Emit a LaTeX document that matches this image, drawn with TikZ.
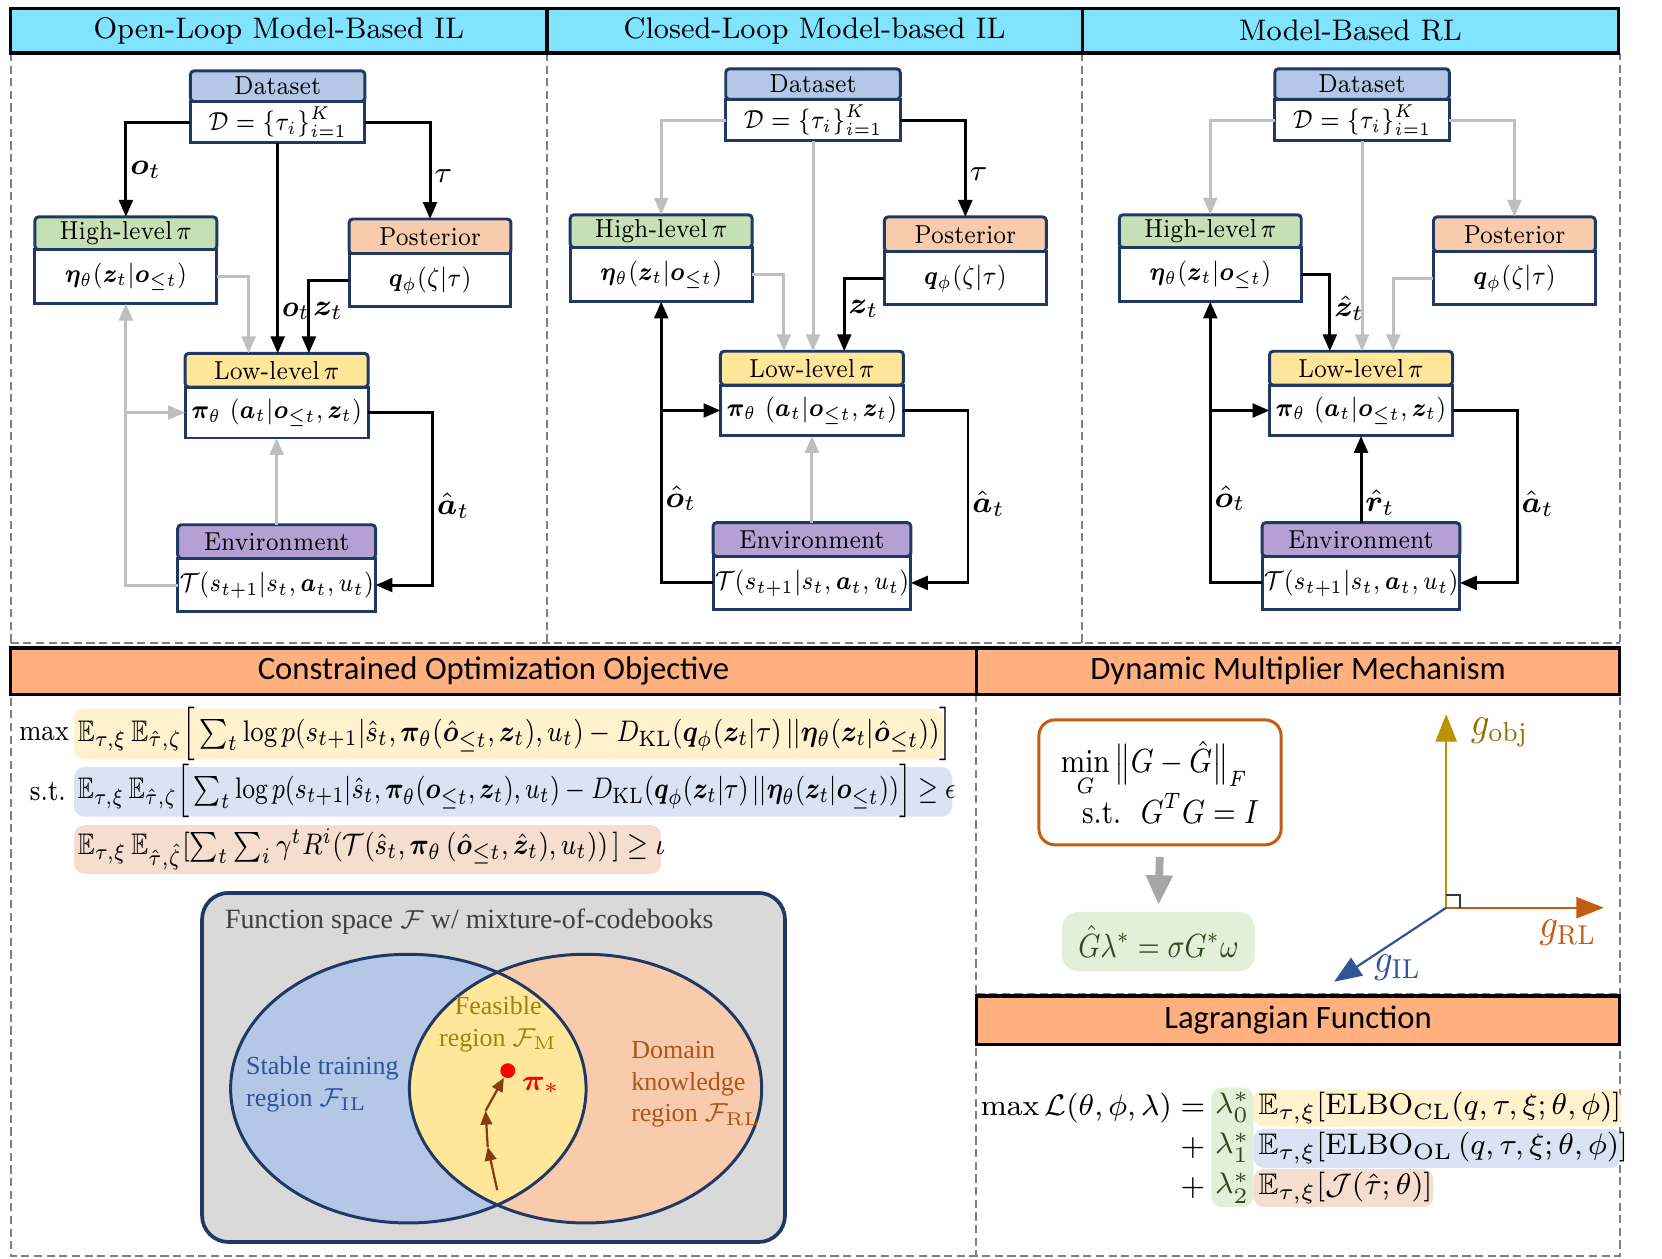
\documentclass[tikz,border=0pt]{standalone}
\usepackage{amsmath,amssymb,bm}
\usepackage{graphicx}
\usepackage{fontspec}
\newfontfamily\hdfont{Carlito}
\newfontfamily\tmfont{Liberation Serif}
\usetikzlibrary{arrows.meta,positioning,calc}

\definecolor{navy}{HTML}{1F3864}
\definecolor{cTitle}{HTML}{80E4FF}
\definecolor{cSec}{HTML}{FFB07E}
\definecolor{cData}{HTML}{B4C7E7}
\definecolor{cHigh}{HTML}{C5E0B4}
\definecolor{cPost}{HTML}{F8CBAD}
\definecolor{cLow}{HTML}{FFE699}
\definecolor{cEnv}{HTML}{B4A0D3}
\definecolor{lnGray}{HTML}{BFBFBF}
\definecolor{dshGray}{HTML}{808080}
\definecolor{hlYel}{HTML}{FFF2CC}
\definecolor{hlBlu}{HTML}{DAE3F3}
\definecolor{hlPch}{HTML}{F5DDCF}
\definecolor{hlGrn}{HTML}{E2F0D9}
\definecolor{cOrg}{HTML}{C55A11}
\definecolor{cGold}{HTML}{BF9000}
\definecolor{cGoldTxt}{HTML}{8F6F00}
\definecolor{cIL}{HTML}{2F5597}
\definecolor{cBrn}{HTML}{843C0C}
\definecolor{cFS}{HTML}{D9D9D9}
\definecolor{cArr}{HTML}{A6A6A6}
\definecolor{cDkGrn}{HTML}{2E4D1F}
\definecolor{cFeasTxt}{HTML}{9C8412}
\definecolor{cDomTxt}{HTML}{B0531A}

% narrow text, like the condensed face of the original
\newcommand{\cnd}[2][0.85]{\scalebox{#1}[1]{#2}}

\tikzset{
    hd/.style={draw=navy, line width=0.8pt, outer sep=0pt, inner sep=0pt,
        rounded corners=1pt, font=\fontsize{7}{8}\selectfont},
    bd/.style={draw=navy, line width=0.8pt, outer sep=0pt, inner sep=0pt,
        fill=white, font=\fontsize{7.5}{9}\selectfont},
    blk/.style={draw=black, line width=0.8pt, -{Triangle[length=1.6mm,width=1.3mm]}},
    gry/.style={draw=lnGray, line width=0.8pt, -{Triangle[length=1.6mm,width=1.3mm]}},
    lbl/.style={font=\fontsize{8.5}{10}\selectfont, inner sep=0.8pt},
    ttl/.style={draw=black, line width=0.9pt, fill=cTitle, inner sep=0pt,
        minimum height=4.2mm, font=\fontsize{8}{9}\selectfont},
    sec/.style={draw=black, line width=0.9pt, fill=cSec, inner sep=0pt,
        font=\hdfont\fontsize{8.8}{10}\selectfont},
    dsh/.style={draw=dshGray, line width=0.55pt, dash pattern=on 2.2pt off 1.2pt},
    fml/.style={inner sep=0pt, font=\fontsize{8}{10}\selectfont},
    ax/.style={line width=0.6pt, -{Triangle[length=2.6mm,width=2mm]}},
    brn/.style={draw=cBrn, line width=0.6pt, -{Triangle[length=1.3mm,width=1.1mm]}},
    vtx/.style={font=\tmfont\fontsize{7}{8.5}\selectfont, inner sep=0pt}
}

\begin{document}
\begin{tikzpicture}[x=0.1mm, y=-0.1mm]
    \useasboundingbox (0,0) rectangle (1571,1190);

    % frame
    \draw[dsh] (10,50) -- (10,1187) -- (1531,1187) -- (1531,50);
    \draw[dsh] (10,608) -- (1531,608);
    \draw[dsh] (517,50) -- (517,612);
    \draw[dsh] (1023,50) -- (1023,612);
    \draw[dsh] (923,656) -- (923,1187);
    \draw[dsh] (923,940) -- (1531,940);

    \node[ttl, minimum width=50.7mm] (t1) at (263.5,29) {\cnd[0.96]{Open-Loop Model-Based IL}};
    \node[ttl, minimum width=50.6mm] (t2) at (770,29) {\cnd[0.96]{Closed-Loop Model-based IL}};
    \node[ttl, minimum width=50.7mm] (t3) at (1276.5,29) {\cnd[0.96]{Model-Based RL}};

    \node[sec, minimum width=91.3mm, minimum height=4.4mm] (s1) at (466.5,634.5) {Constrained Optimization Objective};
    \node[sec, minimum width=60.8mm, minimum height=4.4mm] (s2) at (1227,634.5) {Dynamic Multiplier Mechanism};
    \node[sec, minimum width=60.8mm, minimum height=4.6mm] (s3) at (1227,964.5) {Lagrangian Function};

    % blocks of the three schemes
    \foreach \p/\dx/\dy in {1/0/0, 2/506/-2, 3/1025/-2}{
      \begin{scope}[shift={(\dx,\dy)}]
        \node[hd, fill=cData, minimum width=16.5mm, minimum height=2.9mm] (dsh\p) at (262.5,81.5) {\cnd[0.87]{Dataset}};
        \node[bd, minimum width=16.5mm, minimum height=3.9mm, below=0pt of dsh\p] (ds\p) {\cnd{$\mathcal{D}=\{\tau_i\}_{i=1}^{K}$}};
        \node[hd, fill=cHigh, minimum width=17.2mm, minimum height=3.1mm] (hih\p) at (119,220.5) {\cnd[0.87]{High-level\,$\pi$}};
        \node[bd, minimum width=17.2mm, minimum height=5.1mm, below=0pt of hih\p] (hi\p) {\cnd{$\bm{\eta}_\theta(\bm{z}_t|\bm{o}_{\le t})$}};
        \node[hd, fill=cPost, minimum width=15.3mm, minimum height=3.3mm] (poh\p) at (406.5,223.5) {\cnd[0.87]{Posterior}};
        \node[bd, minimum width=15.3mm, minimum height=5mm, below=0pt of poh\p] (po\p) {\cnd{$\bm{q}_\phi(\zeta|\tau)$}};
        \node[hd, fill=cLow, minimum width=17.3mm, minimum height=3.2mm] (loh\p) at (261.5,350) {\cnd[0.87]{Low-level\,$\pi$}};
        \node[bd, minimum width=17.3mm, minimum height=4.8mm, below=0pt of loh\p] (lo\p) {\cnd{$\bm{\pi}_\theta\ (\bm{a}_t|\bm{o}_{\le t},\bm{z}_t)$}};
        \node[hd, fill=cEnv, minimum width=18.7mm, minimum height=3.2mm] (enh\p) at (261.5,512) {\cnd[0.87]{Environment}};
        \node[bd, minimum width=18.7mm, minimum height=5mm, below=0pt of enh\p] (en\p) {\cnd{$\mathcal{T}(s_{t+1}|s_t,\bm{a}_t,u_t)$}};
      \end{scope}
    }

    % open-loop
    \draw[blk] (ds1.west) -| (hih1.north) node[lbl, pos=0.75, right] {$\bm{o}_t$};
    \draw[blk] (ds1.east) -| (poh1.north) node[lbl, pos=0.78, right] {$\tau$};
    \draw[blk] (ds1.south) -- (ds1.south |- loh1.north) node[lbl, pos=0.8, right] {\cnd[0.9]{$\bm{o}_t$}};
    \draw[blk] (po1.west) -| ([xshift=3.05mm]loh1.north) node[lbl, pos=0.71, right] {$\bm{z}_t$};
    \draw[gry] (hi1.east) -| ([xshift=-2.65mm]loh1.north);
    \draw[blk] (lo1.east) -- ++(61,0) |- node[lbl, pos=0.27, right] {$\hat{\bm{a}}_t$} (en1.east);
    \draw[gry] (enh1.north) -- (enh1.north |- lo1.south);
    \draw[gry] (en1.west) -| (hi1.south);
    \draw[gry] (hi1.south |- lo1.west) -- (lo1.west);

    % closed-loop
    \draw[gry] (ds2.west) -| (hih2.north);
    \draw[gry] (ds2.south) -- (ds2.south |- loh2.north);
    \draw[blk] (ds2.east) -| (poh2.north) node[lbl, pos=0.78, right] {$\tau$};
    \draw[blk] (po2.west) -| ([xshift=3.05mm]loh2.north) node[lbl, pos=0.71, right] {$\bm{z}_t$};
    \draw[gry] (hi2.east) -| ([xshift=-2.65mm]loh2.north);
    \draw[blk] (lo2.east) -- ++(61,0) |- node[lbl, pos=0.27, right] {$\hat{\bm{a}}_t$} (en2.east);
    \draw[gry] (enh2.north) -- (enh2.north |- lo2.south);
    \draw[blk] (en2.west) -| (hi2.south) node[lbl, pos=0.65, right] {$\hat{\bm{o}}_t$};
    \draw[blk] (hi2.south |- lo2.west) -- (lo2.west);

    % model-based RL
    \draw[gry] (ds3.west) -| (hih3.north);
    \draw[gry] (ds3.south) -- (ds3.south |- loh3.north);
    \draw[gry] (ds3.east) -| (poh3.north);
    \draw[gry] (po3.west) -| ([xshift=3.05mm]loh3.north);
    \draw[blk] (hi3.east) -| ([xshift=-2.95mm]loh3.north) node[lbl, pos=0.72, right] {$\hat{\bm{z}}_t$};
    \draw[blk] (lo3.east) -- ++(61,0) |- node[lbl, pos=0.27, right] {$\hat{\bm{a}}_t$} (en3.east);
    \draw[blk] (enh3.north) -- (enh3.north |- lo3.south) node[lbl, pos=0.23, right] {$\hat{\bm{r}}_t$};
    \draw[blk] (en3.west) -| (hi3.south) node[lbl, pos=0.65, right] {$\hat{\bm{o}}_t$};
    \draw[blk] (hi3.south |- lo3.west) -- (lo3.west);

    % objective
    \fill[hlYel, rounded corners=1mm] (70,670) rectangle (892,718);
    \fill[hlBlu, rounded corners=1mm] (70,725) rectangle (900,772);
    \fill[hlPch, rounded corners=1mm] (70,780) rectangle (625,826);
    \node[fml, anchor=east] (mx) at (66,694) {\cnd{$\max$}};
    \node[fml, anchor=east] (st) at (63,748) {\cnd{s.t.}};
    \node[fml, anchor=west] (obj) at (73,694) {\cnd{$\mathbb{E}_{\tau,\xi}\,\mathbb{E}_{\hat{\tau},\zeta}\Big[\textstyle\sum_t \log p(s_{t+1}|\hat{s}_t,\bm{\pi}_\theta(\hat{\bm{o}}_{\le t},\bm{z}_t),u_t)-D_{\mathrm{KL}}(\bm{q}_\phi(\bm{z}_t|\tau)\,||\bm{\eta}_\theta(\bm{z}_t|\hat{\bm{o}}_{\le t}))\Big]$}};
    \node[fml, anchor=west] (con1) at (73,748) {\cnd[0.81]{$\mathbb{E}_{\tau,\xi}\,\mathbb{E}_{\hat{\tau},\zeta}\Big[\textstyle\sum_t \log p(s_{t+1}|\hat{s}_t,\bm{\pi}_\theta(\bm{o}_{\le t},\bm{z}_t),u_t)-D_{\mathrm{KL}}(\bm{q}_\phi(\bm{z}_t|\tau)\,||\bm{\eta}_\theta(\bm{z}_t|\bm{o}_{\le t}))\Big]\geq\epsilon$}};
    \node[fml, anchor=west] (con2) at (73,803) {\cnd{$\mathbb{E}_{\tau,\xi}\,\mathbb{E}_{\hat{\tau},\hat{\zeta}}[\textstyle\sum_t\sum_i\gamma^tR^i(\mathcal{T}(\hat{s}_t,\bm{\pi}_\theta\,(\hat{\bm{o}}_{\le t},\hat{\bm{z}}_t),u_t))\,]\geq\iota$}};

    % function space
    \node[draw=navy, line width=1pt, fill=cFS, rounded corners=2.5mm, minimum width=55.1mm, minimum height=33mm] (fs) at (466.5,1009) {};
    \node[vtx, anchor=west, text=black!75, font=\tmfont\fontsize{7.5}{9}\selectfont] (fst) at (212,871) {Function space $\mathcal{F}$ w/ mixture-of-codebooks};
    \fill[cData] (386,1029) ellipse [x radius=16.8mm, y radius=12.7mm];
    \fill[cPost] (553.5,1029) ellipse [x radius=16.65mm, y radius=12.7mm];
    \begin{scope}
      \clip (386,1029) ellipse [x radius=16.8mm, y radius=12.7mm];
      \fill[cLow] (553.5,1029) ellipse [x radius=16.65mm, y radius=12.7mm];
    \end{scope}
    \draw[navy, line width=0.8pt] (386,1029) ellipse [x radius=16.8mm, y radius=12.7mm];
    \draw[navy, line width=0.8pt] (553.5,1029) ellipse [x radius=16.65mm, y radius=12.7mm];
    \node[vtx, align=center, text=cFeasTxt] (feas) at (471,968) {Feasible\\region $\mathcal{F}_{\mathrm{M}}$};
    \node[vtx, align=left, anchor=west, text=cIL] (stab) at (232,1025) {Stable training\\region $\mathcal{F}_{\mathrm{IL}}$};
    \node[vtx, align=left, anchor=west, text=cDomTxt] (dom) at (596,1025) {Domain\\knowledge\\region $\mathcal{F}_{\mathrm{RL}}$};
    \node[circle, fill=red, inner sep=0pt, minimum size=1.4mm] (pist) at (480,1012) {};
    \node[lbl, text=red, anchor=west] (pil) at (490,1026) {$\bm{\pi}_*$};
    \coordinate (v0) at (470,1125);
    \coordinate (v1) at (461,1084);
    \coordinate (v2) at (459,1050);
    \draw[brn] (v0) -- (v1);
    \draw[brn] (v1) -- (v2);
    \draw[brn] (v2) -- (pist);

    % multiplier
    \node[draw=cOrg, line width=0.8pt, rounded corners=1.5mm, minimum width=22.9mm, minimum height=11.8mm, align=left, font=\fontsize{9}{12}\selectfont] (dmin) at (1096.5,739.5) {\cnd{$\min\limits_{G}\big\|G-\hat{G}\big\|_F$}\\[-2pt]\hspace{2mm}\cnd{s.t.\ \ $G^TG=I$}};
    \node[fill=hlGrn, rounded corners=1.5mm, minimum width=18.2mm, minimum height=5.6mm, text=cDkGrn, font=\fontsize{9}{10}\selectfont] (glam) at (1095,890) {\cnd[0.82]{$\hat{G}\lambda^*=\sigma G^*\omega$}};
    \draw[draw=cArr, line width=2.1pt, -{Triangle[length=2.8mm,width=2.4mm]}, shorten <=1mm, shorten >=0.6mm] (dmin.south) -- (glam.north);

    \coordinate (org) at (1367,858);
    \coordinate (gobj) at (1367,675);
    \coordinate (grl) at (1516,858);
    \coordinate (gil) at (1261,928);
    \draw[ax, cGold] (org) -- (gobj);
    \draw[ax, cOrg] (org) -- (grl);
    \draw[ax, cIL] (org) -- (gil);
    \draw[navy, line width=0.5pt] ([yshift=1.2mm]org) -| ([xshift=1.3mm]org);
    \node[anchor=west, text=cGoldTxt, font=\fontsize{10.5}{12}\selectfont] (lobj) at (1378,692) {\cnd[0.9]{$g_{\mathrm{obj}}$}};
    \node[text=cOrg, font=\fontsize{10.5}{12}\selectfont] (lrl) at (1482,882) {\cnd[0.9]{$g_{\mathrm{RL}}$}};
    \node[text=cIL, font=\fontsize{10.5}{12}\selectfont] (lil) at (1321,915) {\cnd[0.9]{$g_{\mathrm{IL}}$}};

    % lagrangian
    \fill[hlGrn, rounded corners=1mm] (1145,1028) rectangle (1185,1141);
    \fill[hlYel, rounded corners=1mm] (1185,1030) rectangle (1533,1065);
    \fill[hlBlu, rounded corners=1mm] (1185,1067) rectangle (1533,1104);
    \fill[hlPch, rounded corners=1mm] (1185,1105) rectangle (1355,1141);
    \node[fml, anchor=east] (lag) at (1140,1047) {$\max\mathcal{L}(\theta,\phi,\lambda)=$};
    \node[fml, text=cDkGrn] (lam0) at (1165,1047) {$\lambda_0^*$};
    \node[fml, text=cDkGrn] (lam1) at (1165,1085) {$\lambda_1^*$};
    \node[fml, text=cDkGrn] (lam2) at (1165,1123) {$\lambda_2^*$};
    \node[fml, anchor=east] at ([xshift=-0.8mm]lam1.west) {$+$};
    \node[fml, anchor=east] at ([xshift=-0.8mm]lam2.west) {$+$};
    \node[fml, anchor=west] (el0) at (1189,1047) {$\mathbb{E}_{\tau,\xi}[\mathrm{ELBO}_{\mathrm{CL}}(q,\tau,\xi;\theta,\phi)]$};
    \node[fml, anchor=west] (el1) at (1189,1085) {$\mathbb{E}_{\tau,\xi}[\mathrm{ELBO}_{\mathrm{OL}}\,(q,\tau,\xi;\theta,\phi)]$};
    \node[fml, anchor=west] (jt) at (1189,1123) {$\mathbb{E}_{\tau,\xi}[\mathcal{J}(\hat{\tau};\theta)]$};
\end{tikzpicture}
\end{document}
